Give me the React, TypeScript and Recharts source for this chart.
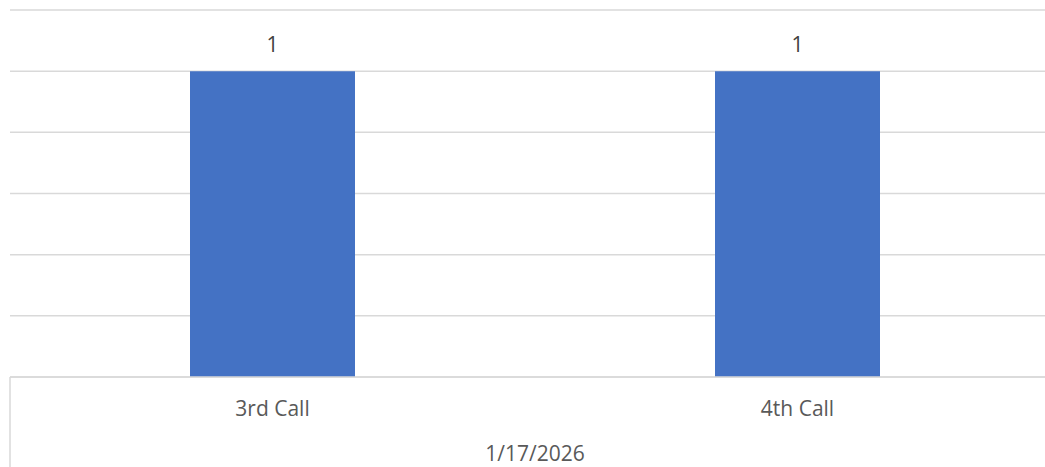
import React from "react"
import { BarChart, Bar, XAxis, YAxis, CartesianGrid, LabelList } from "recharts"

const calls = ["3rd Call", "4th Call"]
const values = [1, 1]
const callDate = "1/17/2026"
const yTicks = [0, 0.2, 0.4, 0.6, 0.8, 1, 1.2]

const data = calls.map((call, i) => ({ call, value: values[i], date: callDate }))

const FONT = "'Open Sans', 'Liberation Sans', sans-serif"
const GRID = "#d9d9d9"
const CALL_AXIS_H = 45
const GROUP_AXIS_H = 45
const GROUP_MARGIN = 24

// group label plus the boundary lines of the group, from the band edges
function GroupTick(props: any) {
  const { x, y, payload } = props
  const half = payload.offset || 0
  const top = y - GROUP_MARGIN - CALL_AXIS_H
  const bottom = top + CALL_AXIS_H + GROUP_AXIS_H
  return (
    <g>
      <line x1={x - half} x2={x - half} y1={top} y2={bottom} stroke={GRID} strokeWidth={1.5} />
      <line x1={x + half} x2={x + half} y1={top} y2={bottom} stroke={GRID} strokeWidth={1.5} />
      <text x={x} y={y} dy="0.71em" textAnchor="middle" fill="#595959" fontSize={21} fontFamily={FONT}>
        {payload.value}
      </text>
    </g>
  )
}

export default function App() {
  return (
    <div style={{ position: "fixed", top: 0, left: 0, width: 1045, height: 467, overflow: "hidden", background: "#fff" }}>
      <BarChart width={1070} height={467} data={data} margin={{ top: 10, right: 10, bottom: 0, left: 10 }}>
        <CartesianGrid vertical={false} stroke={GRID} strokeWidth={1.5} />
        <XAxis
          xAxisId="calls"
          dataKey="call"
          height={CALL_AXIS_H}
          tickSize={0}
          tickMargin={24}
          axisLine={{ stroke: GRID, strokeWidth: 1.5 }}
          tick={{ fill: "#595959", fontSize: 21, fontFamily: FONT }}
        />
        <XAxis
          xAxisId="group"
          dataKey="date"
          allowDuplicatedCategory={false}
          height={GROUP_AXIS_H}
          tickSize={0}
          tickMargin={GROUP_MARGIN}
          axisLine={false}
          tick={<GroupTick />}
        />
        <YAxis hide domain={[0, 1.2]} ticks={yTicks} />
        <Bar xAxisId="calls" dataKey="value" fill="#4472C4" barSize={165} isAnimationActive={false}>
          <LabelList dataKey="value" position="top" offset={19} fill="#404040" fontSize={21} fontFamily={FONT} />
        </Bar>
      </BarChart>
    </div>
  )
}
